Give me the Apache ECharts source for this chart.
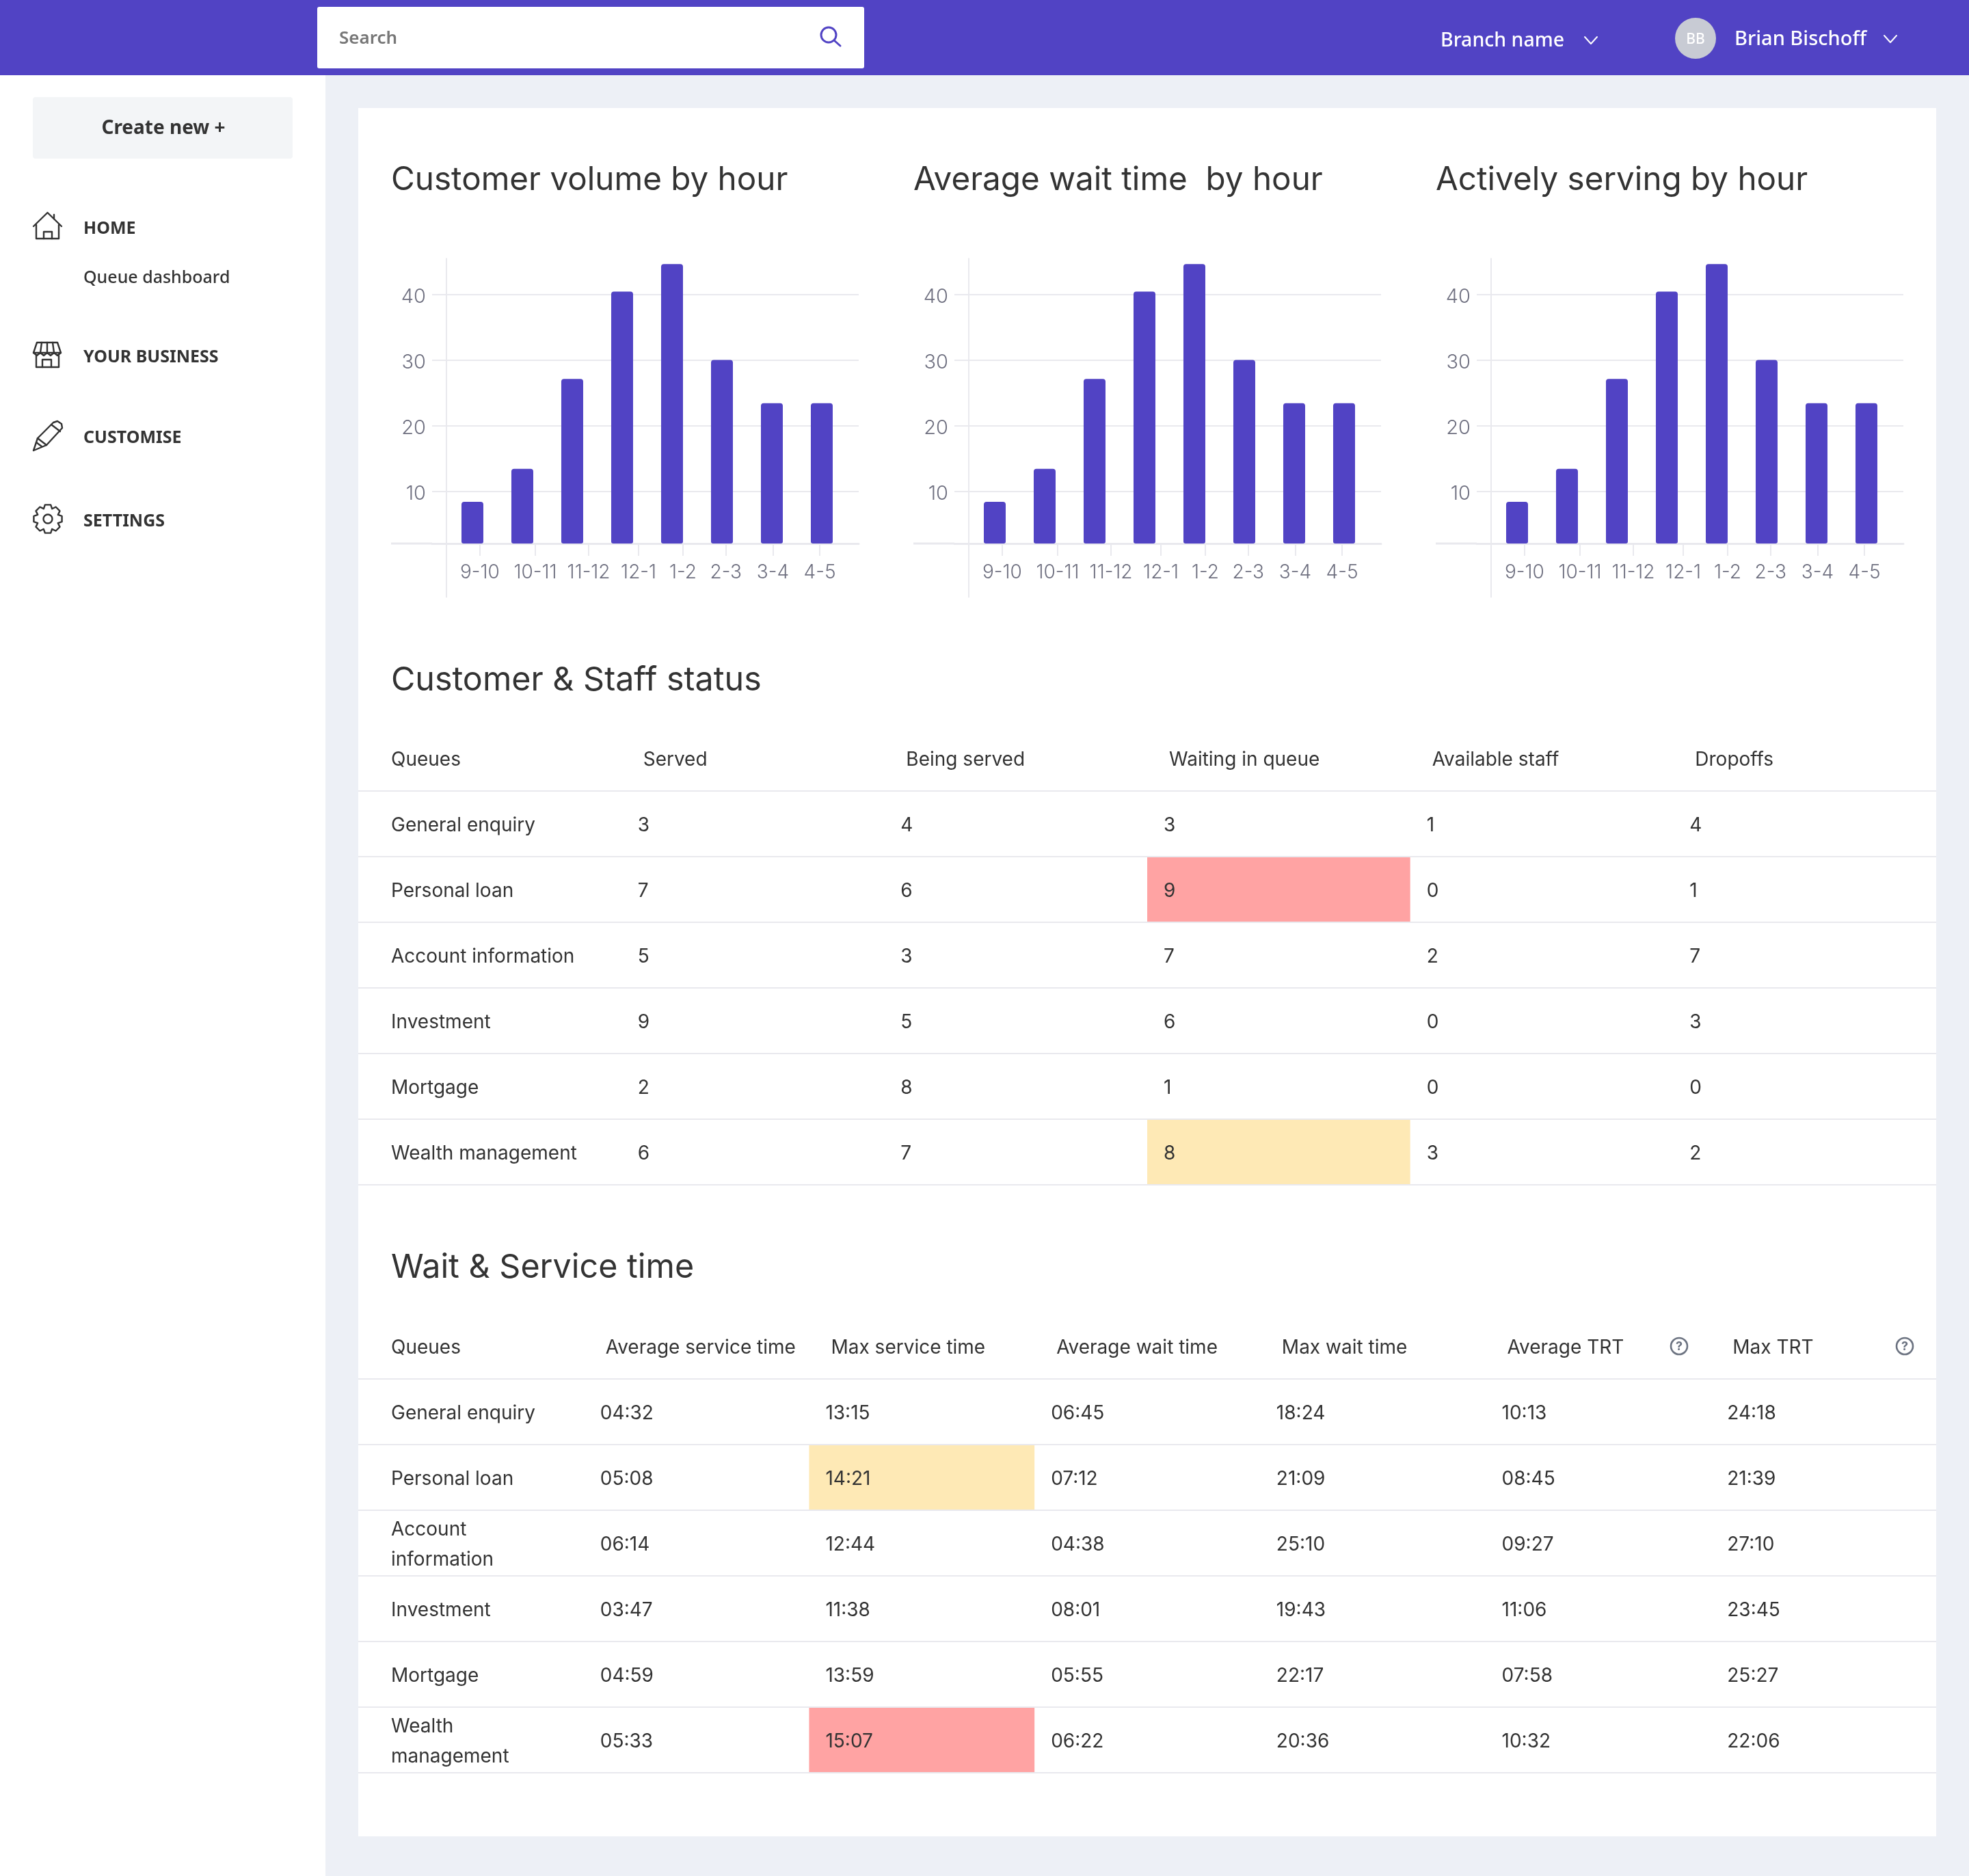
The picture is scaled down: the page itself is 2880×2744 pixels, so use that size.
<!DOCTYPE html>
<html>
<head>
<meta charset="utf-8">
<title>Queue dashboard</title>
<script src="https://cdn.jsdelivr.net/npm/echarts@6/dist/echarts.min.js"></script>
<style>
  html, body { margin: 0; padding: 0; background: #EDF0F6; }
  #main { width: 2880px; height: 2744px; }
</style>
</head>
<body>
<div id="main"></div>
<script>
// chart data, all three charts show the same numbers in the reference
var hourLabels = ['9-10', '10-11', '11-12', '12-1', '1-2', '2-3', '3-4', '4-5'];
var customerVolume = [8.4, 13.4, 27.1, 40.4, 44.6, 30, 23.4, 23.4];
var averageWait = [8.4, 13.4, 27.1, 40.4, 44.6, 30, 23.4, 23.4];
var activelyServing = [8.4, 13.4, 27.1, 40.4, 44.6, 30, 23.4, 23.4];
var yTickValues = [10, 20, 30, 40];
// the hour labels do not line up with the bars, these are their spots on the bar axis
var labelSlots = [0.15, 1.26, 2.33, 3.33, 4.22, 5.08, 6.02, 6.96];

// Customer & Staff status
var staffHeaders = ['Queues', 'Served', 'Being served', 'Waiting in queue', 'Available staff', 'Dropoffs'];
var staffQueues = ['General enquiry', 'Personal loan', 'Account information', 'Investment', 'Mortgage', 'Wealth management'];
var served = ['3', '7', '5', '9', '2', '6'];
var beingServed = ['4', '6', '3', '5', '8', '7'];
var waitingInQueue = ['3', '9', '7', '6', '1', '8'];
var availableStaff = ['1', '0', '2', '0', '0', '3'];
var dropoffs = ['4', '1', '7', '3', '0', '2'];
var staffRed = [[3, 2]];    // [col, row] in the value rows
var staffAmber = [[3, 6]];

// Wait & Service time
var waitHeaders = ['Queues', 'Average service time', 'Max service time', 'Average wait time', 'Max wait time', 'Average TRT', 'Max TRT'];
var waitQueues = ['General enquiry', 'Personal loan', 'Account\ninformation', 'Investment', 'Mortgage', 'Wealth\nmanagement'];
var avgService = ['04:32', '05:08', '06:14', '03:47', '04:59', '05:33'];
var maxService = ['13:15', '14:21', '12:44', '11:38', '13:59', '15:07'];
var avgWaitTime = ['06:45', '07:12', '04:38', '08:01', '05:55', '06:22'];
var maxWaitTime = ['18:24', '21:09', '25:10', '19:43', '22:17', '20:36'];
var avgTrt = ['10:13', '08:45', '09:27', '11:06', '07:58', '10:32'];
var maxTrt = ['24:18', '21:39', '27:10', '23:45', '25:27', '22:06'];
var waitRed = [[2, 6]];
var waitAmber = [[2, 2]];

var PURPLE = '#5143C4';
var DARK = '#333333';
var LINE = '#E9E9EE';
var RED = '#FFA3A3';
var AMBER = '#FEE9B5';
var BODY_FONT = 'Inter';
var NAV_FONT = '"Noto Sans"';

// helpers for the page furniture
var gfx = [];
function box(x, y, w, h, fill, r, z) {
    gfx.push({ type: 'rect', z: z === undefined ? -10 : z, shape: { x: x, y: y, width: w, height: h, r: r || 0 }, style: { fill: fill } });
}
function line(points, color, width, closed) {
    gfx.push({ type: closed ? 'polygon' : 'polyline', z: 5, shape: { points: points }, style: { stroke: color, lineWidth: width, fill: closed ? null : 'none', lineJoin: 'round', lineCap: 'round' } });
}
function ring(x, y, r, color, width) {
    gfx.push({ type: 'circle', z: 5, shape: { cx: x, cy: y, r: r }, style: { stroke: color, lineWidth: width, fill: 'none' } });
}
function label(x, y, text, size, weight, color, family, align) {
    gfx.push({ type: 'text', z: 6, style: { x: x, y: y, text: text, fill: color, font: weight + ' ' + size + 'px ' + family, textAlign: align || 'left', textVerticalAlign: 'middle' } });
}

// page background and header
box(0, 110, 476, 2634, '#FFFFFF');
box(524, 158, 2308, 2528, '#FFFFFF');
box(0, 0, 2880, 110, PURPLE);
box(464, 10, 800, 90, '#FFFFFF', 3);
label(496, 57, 'Search', 26, 600, '#777777', NAV_FONT);
ring(1212, 51, 11, PURPLE, 3);
line([[1220, 59], [1229, 67]], PURPLE, 3);
label(2107, 60, 'Branch name', 28.5, 500, '#FFFFFF', NAV_FONT);
line([[2318, 54], [2327, 64], [2336, 54]], '#FFFFFF', 2);
gfx.push({ type: 'circle', z: 5, shape: { cx: 2480, cy: 56, r: 30 }, style: { fill: '#C8CBD4' } });
label(2480, 58, 'BB', 21, 500, '#FFFFFF', NAV_FONT, 'center');
label(2537, 58, 'Brian Bischoff', 29, 500, '#FFFFFF', NAV_FONT);
line([[2756, 52], [2765, 62], [2774, 52]], '#FFFFFF', 2);

// sidebar
box(48, 142, 380, 90, '#F3F5F7', 4);
label(239, 188, 'Create new +', 28, 700, DARK, NAV_FONT, 'center');
label(122, 335, 'HOME', 25, 700, DARK, NAV_FONT);
label(122, 407, 'Queue dashboard', 25, 500, DARK, NAV_FONT);
label(122, 523, 'YOUR BUSINESS', 25, 700, DARK, NAV_FONT);
label(122, 641, 'CUSTOMISE', 25, 700, DARK, NAV_FONT);
label(122, 763, 'SETTINGS', 25, 700, DARK, NAV_FONT);

// home icon
line([[49, 331], [69.5, 311], [90, 331]], DARK, 2.4);
line([[79, 320], [79, 314]], DARK, 2.4);
line([[53, 329], [53, 349], [86, 349], [86, 329]], DARK, 2.4);
line([[64, 349], [64, 339], [76, 339], [76, 349]], DARK, 2.4);
// store icon
line([[54, 501], [84, 501], [89, 516], [49, 516]], DARK, 2.4, true);
line([[61, 501], [59, 516]], DARK, 2.4);
line([[69, 501], [69, 516]], DARK, 2.4);
line([[77, 501], [79, 516]], DARK, 2.4);
line([[49, 516], [54, 520], [59, 516], [64, 520], [69, 516], [74, 520], [79, 516], [84, 520], [89, 516]], DARK, 2.4);
line([[53, 520], [53, 537], [86, 537], [86, 520]], DARK, 2.4);
line([[62, 537], [62, 526], [75, 526], [75, 537]], DARK, 2.4);
// pencil icon
line([[49, 659], [55, 641], [78, 618], [84, 616], [90, 620], [91, 626], [68, 651]], DARK, 2.4, true);
line([[55, 641], [68, 651]], DARK, 2.4);
line([[75, 621], [88, 631]], DARK, 2.4);
line([[53, 647], [61, 653]], DARK, 2.4);
// gear icon, 8 teeth around the hub
var gearPoints = [];
for (var t = 0; t < 8; t++) {
    var mid = t * Math.PI / 4;
    gearPoints.push([70 + 16 * Math.cos(mid - 0.39), 759 + 16 * Math.sin(mid - 0.39)]);
    gearPoints.push([70 + 21 * Math.cos(mid - 0.2), 759 + 21 * Math.sin(mid - 0.2)]);
    gearPoints.push([70 + 21 * Math.cos(mid + 0.2), 759 + 21 * Math.sin(mid + 0.2)]);
}
line(gearPoints, DARK, 2.4, true);
ring(70, 759, 6.5, DARK, 2.4);

// the two help icons in the wait table header
[2456, 2786].forEach(function (x) {
    ring(x, 1969, 12, '#6B7280', 2.6);
    label(x, 1970, '?', 18, 700, '#6B7280', BODY_FONT, 'center');
});

// charts, each one is shifted by 764 px from the one before
var chartData = [customerVolume, averageWait, activelyServing];
var chartTitles = ['Customer volume by hour', 'Average wait time  by hour', 'Actively serving by hour'];
var CHART_STEP = 764;
var grids = [], xAxes = [], yAxes = [], seriesList = [];
var titles = [];

chartData.forEach(function (values, i) {
    var dx = CHART_STEP * i;
    titles.push({
        text: chartTitles[i], left: 567 + dx, top: 235,
        textStyle: { fontFamily: BODY_FONT, fontSize: 47.6, fontWeight: 400, color: DARK }
    });
    grids.push({ left: 632 + dx, top: 377.5, width: 624, height: 417.5 });
    xAxes.push({
        type: 'value', gridIndex: i,
        min: -0.808, max: 7.74,
        splitLine: { show: false },
        axisLine: { show: true, onZero: false, lineStyle: { color: LINE, width: 3 } },
        axisTick: { show: true, length: 18, customValues: labelSlots, lineStyle: { color: LINE, width: 2 } },
        axisLabel: {
            customValues: labelSlots, margin: 29, color: '#6F7080', fontFamily: BODY_FONT, fontSize: 28, fontWeight: 300,
            formatter: function (v) { return hourLabels[labelSlots.indexOf(v)]; }
        }
    });
    yAxes.push({
        type: 'value', gridIndex: i,
        min: 2.04, max: 45.5,
        axisLine: { show: false },
        axisTick: { show: false, customValues: yTickValues },
        splitLine: { show: true, lineStyle: { color: LINE, width: 2 } },
        axisLabel: {
            customValues: yTickValues, margin: 9,
            formatter: '{tick|{value}}',
            rich: { tick: { padding: [7, 0, 0, 0], color: '#6F7080', fontFamily: BODY_FONT, fontSize: 29, fontWeight: 300 } }
        }
    });
    seriesList.push({
        type: 'bar', xAxisIndex: i, yAxisIndex: i, barWidth: 32,
        itemStyle: { color: PURPLE, borderRadius: [4, 4, 3, 3] },
        data: values.map(function (v, k) { return [k, v]; })
    });
    // the axis rules reach past the plot area
    gfx.push({ type: 'line', z: 1, shape: { x1: 572 + dx, y1: 795, x2: 632 + dx, y2: 795 }, style: { stroke: LINE, lineWidth: 3 } });
    gfx.push({ type: 'line', z: 1, shape: { x1: 653 + dx, y1: 377.5, x2: 653 + dx, y2: 874 }, style: { stroke: LINE, lineWidth: 2 } });
});

// tables, an ECharts grid of category bands with one custom cell per band
function addTable(title, titleY, top, headers, columns, red, amber) {
    var idx = grids.length;
    var rowNames = ['header'].concat(columns[0]);
    var cells = [];
    headers.forEach(function (h, c) { cells.push({ col: c, row: 0, text: h }); });
    columns.forEach(function (column, c) {
        column.forEach(function (text, r) {
            var fill = null;
            red.forEach(function (p) { if (p[0] === c && p[1] === r + 1) { fill = RED; } });
            amber.forEach(function (p) { if (p[0] === c && p[1] === r + 1) { fill = AMBER; } });
            cells.push({ col: c, row: r + 1, text: text, fill: fill });
        });
    });
    titles.push({
        text: title, left: 567, top: titleY,
        textStyle: { fontFamily: BODY_FONT, fontSize: 48.4, fontWeight: 400, color: DARK }
    });
    grids.push({ left: 524, top: top, width: 2308, height: 672 });
    xAxes.push({ type: 'category', gridIndex: idx, show: false, data: headers });
    yAxes.push({
        type: 'category', gridIndex: idx, inverse: true, data: rowNames,
        axisLine: { show: false }, axisTick: { show: false }, axisLabel: { show: false },
        splitLine: { show: true, interval: 0, showMinLine: false, lineStyle: { color: LINE, width: 2 } }
    });
    seriesList.push({
        type: 'custom', xAxisIndex: idx, yAxisIndex: idx, clip: false,
        encode: { x: 0, y: 1 },
        data: cells.map(function (c) { return [c.col, c.row]; }),
        renderItem: function (params, api) {
            var cell = cells[params.dataIndex];
            var center = api.coord([cell.col, cell.row]);
            var size = api.size([1, 1]);
            var left = center[0] - size[0] / 2;
            var pad = cell.col === 0 ? 48 : (cell.row === 0 ? 32 : 24);
            var children = [];
            if (cell.fill) {
                children.push({ type: 'rect', shape: { x: left, y: center[1] - size[1] / 2 + 1, width: size[0], height: size[1] - 2 }, style: { fill: cell.fill } });
            }
            children.push({
                type: 'text',
                style: {
                    x: left + pad, y: center[1] + 3, text: cell.text, fill: DARK,
                    font: '400 28px ' + BODY_FONT, lineHeight: 44,
                    textAlign: 'left', textVerticalAlign: 'middle'
                }
            });
            return { type: 'group', children: children };
        }
    });
}

addTable('Customer & Staff status', 966, 1061, staffHeaders,
    [staffQueues, served, beingServed, waitingInQueue, availableStaff, dropoffs], staffRed, staffAmber);
addTable('Wait & Service time', 1825, 1921, waitHeaders,
    [waitQueues, avgService, maxService, avgWaitTime, maxWaitTime, avgTrt, maxTrt], waitRed, waitAmber);

var myChart = echarts.init(document.getElementById('main'));
myChart.setOption({
    animation: false,
    backgroundColor: '#EDF0F6',
    title: titles,
    grid: grids,
    xAxis: xAxes,
    yAxis: yAxes,
    series: seriesList,
    graphic: { elements: gfx }
});
</script>
</body>
</html>
